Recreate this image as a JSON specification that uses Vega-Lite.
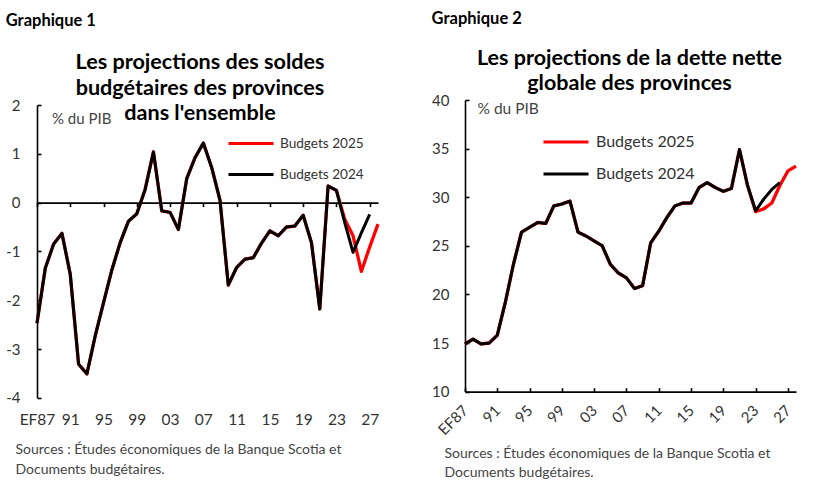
{
  "$schema": "https://vega.github.io/schema/vega-lite/v6.json",
  "padding": {"left": 5, "top": 11, "right": 5, "bottom": 5},
  "config": {
    "font": "Lato",
    "view": {"stroke": null},
    "axis": {
      "grid": false,
      "domainColor": "#000000",
      "domainWidth": 1.6,
      "tickColor": "#000000",
      "tickWidth": 1.6,
      "labelColor": "#333333",
      "labelFont": "Lato",
      "titleFont": "Lato",
      "titleFontWeight": "normal",
      "titleColor": "#444444"
    },
    "legend": {
      "labelFont": "Lato",
      "labelColor": "#333333"
    }
  },
  "datasets": {
    "solde": [
      {"annee": 1987, "serie": "Budgets 2025", "valeur": -2.47},
      {"annee": 1988, "serie": "Budgets 2025", "valeur": -1.34},
      {"annee": 1989, "serie": "Budgets 2025", "valeur": -0.85},
      {"annee": 1990, "serie": "Budgets 2025", "valeur": -0.63},
      {"annee": 1991, "serie": "Budgets 2025", "valeur": -1.47},
      {"annee": 1992, "serie": "Budgets 2025", "valeur": -3.31},
      {"annee": 1993, "serie": "Budgets 2025", "valeur": -3.51},
      {"annee": 1994, "serie": "Budgets 2025", "valeur": -2.73},
      {"annee": 1995, "serie": "Budgets 2025", "valeur": -2.05},
      {"annee": 1996, "serie": "Budgets 2025", "valeur": -1.38},
      {"annee": 1997, "serie": "Budgets 2025", "valeur": -0.82},
      {"annee": 1998, "serie": "Budgets 2025", "valeur": -0.38},
      {"annee": 1999, "serie": "Budgets 2025", "valeur": -0.23},
      {"annee": 2000, "serie": "Budgets 2025", "valeur": 0.27},
      {"annee": 2001, "serie": "Budgets 2025", "valeur": 1.04},
      {"annee": 2002, "serie": "Budgets 2025", "valeur": -0.17},
      {"annee": 2003, "serie": "Budgets 2025", "valeur": -0.2},
      {"annee": 2004, "serie": "Budgets 2025", "valeur": -0.55},
      {"annee": 2005, "serie": "Budgets 2025", "valeur": 0.49},
      {"annee": 2006, "serie": "Budgets 2025", "valeur": 0.92},
      {"annee": 2007, "serie": "Budgets 2025", "valeur": 1.22},
      {"annee": 2008, "serie": "Budgets 2025", "valeur": 0.72},
      {"annee": 2009, "serie": "Budgets 2025", "valeur": 0.05},
      {"annee": 2010, "serie": "Budgets 2025", "valeur": -1.69},
      {"annee": 2011, "serie": "Budgets 2025", "valeur": -1.33},
      {"annee": 2012, "serie": "Budgets 2025", "valeur": -1.16},
      {"annee": 2013, "serie": "Budgets 2025", "valeur": -1.13},
      {"annee": 2014, "serie": "Budgets 2025", "valeur": -0.83},
      {"annee": 2015, "serie": "Budgets 2025", "valeur": -0.58},
      {"annee": 2016, "serie": "Budgets 2025", "valeur": -0.68},
      {"annee": 2017, "serie": "Budgets 2025", "valeur": -0.5},
      {"annee": 2018, "serie": "Budgets 2025", "valeur": -0.48},
      {"annee": 2019, "serie": "Budgets 2025", "valeur": -0.26},
      {"annee": 2020, "serie": "Budgets 2025", "valeur": -0.82},
      {"annee": 2021, "serie": "Budgets 2025", "valeur": -2.18},
      {"annee": 2022, "serie": "Budgets 2025", "valeur": 0.34},
      {"annee": 2023, "serie": "Budgets 2025", "valeur": 0.25},
      {"annee": 2024, "serie": "Budgets 2025", "valeur": -0.34},
      {"annee": 2025, "serie": "Budgets 2025", "valeur": -0.68},
      {"annee": 2026, "serie": "Budgets 2025", "valeur": -1.41},
      {"annee": 2027, "serie": "Budgets 2025", "valeur": -0.91},
      {"annee": 2028, "serie": "Budgets 2025", "valeur": -0.44},
      {"annee": 1987, "serie": "Budgets 2024", "valeur": -2.47},
      {"annee": 1988, "serie": "Budgets 2024", "valeur": -1.34},
      {"annee": 1989, "serie": "Budgets 2024", "valeur": -0.85},
      {"annee": 1990, "serie": "Budgets 2024", "valeur": -0.63},
      {"annee": 1991, "serie": "Budgets 2024", "valeur": -1.47},
      {"annee": 1992, "serie": "Budgets 2024", "valeur": -3.31},
      {"annee": 1993, "serie": "Budgets 2024", "valeur": -3.51},
      {"annee": 1994, "serie": "Budgets 2024", "valeur": -2.73},
      {"annee": 1995, "serie": "Budgets 2024", "valeur": -2.05},
      {"annee": 1996, "serie": "Budgets 2024", "valeur": -1.38},
      {"annee": 1997, "serie": "Budgets 2024", "valeur": -0.82},
      {"annee": 1998, "serie": "Budgets 2024", "valeur": -0.38},
      {"annee": 1999, "serie": "Budgets 2024", "valeur": -0.23},
      {"annee": 2000, "serie": "Budgets 2024", "valeur": 0.27},
      {"annee": 2001, "serie": "Budgets 2024", "valeur": 1.04},
      {"annee": 2002, "serie": "Budgets 2024", "valeur": -0.17},
      {"annee": 2003, "serie": "Budgets 2024", "valeur": -0.2},
      {"annee": 2004, "serie": "Budgets 2024", "valeur": -0.55},
      {"annee": 2005, "serie": "Budgets 2024", "valeur": 0.49},
      {"annee": 2006, "serie": "Budgets 2024", "valeur": 0.92},
      {"annee": 2007, "serie": "Budgets 2024", "valeur": 1.22},
      {"annee": 2008, "serie": "Budgets 2024", "valeur": 0.72},
      {"annee": 2009, "serie": "Budgets 2024", "valeur": 0.05},
      {"annee": 2010, "serie": "Budgets 2024", "valeur": -1.69},
      {"annee": 2011, "serie": "Budgets 2024", "valeur": -1.33},
      {"annee": 2012, "serie": "Budgets 2024", "valeur": -1.16},
      {"annee": 2013, "serie": "Budgets 2024", "valeur": -1.13},
      {"annee": 2014, "serie": "Budgets 2024", "valeur": -0.83},
      {"annee": 2015, "serie": "Budgets 2024", "valeur": -0.58},
      {"annee": 2016, "serie": "Budgets 2024", "valeur": -0.68},
      {"annee": 2017, "serie": "Budgets 2024", "valeur": -0.5},
      {"annee": 2018, "serie": "Budgets 2024", "valeur": -0.48},
      {"annee": 2019, "serie": "Budgets 2024", "valeur": -0.26},
      {"annee": 2020, "serie": "Budgets 2024", "valeur": -0.82},
      {"annee": 2021, "serie": "Budgets 2024", "valeur": -2.18},
      {"annee": 2022, "serie": "Budgets 2024", "valeur": 0.34},
      {"annee": 2023, "serie": "Budgets 2024", "valeur": 0.25},
      {"annee": 2024, "serie": "Budgets 2024", "valeur": -0.41},
      {"annee": 2025, "serie": "Budgets 2024", "valeur": -1.02},
      {"annee": 2026, "serie": "Budgets 2024", "valeur": -0.62},
      {"annee": 2027, "serie": "Budgets 2024", "valeur": -0.24}
    ],
    "dette": [
      {"annee": 1987, "serie": "Budgets 2025", "valeur": 14.9},
      {"annee": 1988, "serie": "Budgets 2025", "valeur": 15.4},
      {"annee": 1989, "serie": "Budgets 2025", "valeur": 14.9},
      {"annee": 1990, "serie": "Budgets 2025", "valeur": 15.0},
      {"annee": 1991, "serie": "Budgets 2025", "valeur": 15.8},
      {"annee": 1992, "serie": "Budgets 2025", "valeur": 19.2},
      {"annee": 1993, "serie": "Budgets 2025", "valeur": 23.1},
      {"annee": 1994, "serie": "Budgets 2025", "valeur": 26.4},
      {"annee": 1995, "serie": "Budgets 2025", "valeur": 26.9},
      {"annee": 1996, "serie": "Budgets 2025", "valeur": 27.4},
      {"annee": 1997, "serie": "Budgets 2025", "valeur": 27.3},
      {"annee": 1998, "serie": "Budgets 2025", "valeur": 29.1},
      {"annee": 1999, "serie": "Budgets 2025", "valeur": 29.3},
      {"annee": 2000, "serie": "Budgets 2025", "valeur": 29.6},
      {"annee": 2001, "serie": "Budgets 2025", "valeur": 26.4},
      {"annee": 2002, "serie": "Budgets 2025", "valeur": 26.0},
      {"annee": 2003, "serie": "Budgets 2025", "valeur": 25.5},
      {"annee": 2004, "serie": "Budgets 2025", "valeur": 25.0},
      {"annee": 2005, "serie": "Budgets 2025", "valeur": 23.1},
      {"annee": 2006, "serie": "Budgets 2025", "valeur": 22.2},
      {"annee": 2007, "serie": "Budgets 2025", "valeur": 21.7},
      {"annee": 2008, "serie": "Budgets 2025", "valeur": 20.6},
      {"annee": 2009, "serie": "Budgets 2025", "valeur": 20.9},
      {"annee": 2010, "serie": "Budgets 2025", "valeur": 25.3},
      {"annee": 2011, "serie": "Budgets 2025", "valeur": 26.5},
      {"annee": 2012, "serie": "Budgets 2025", "valeur": 27.9},
      {"annee": 2013, "serie": "Budgets 2025", "valeur": 29.1},
      {"annee": 2014, "serie": "Budgets 2025", "valeur": 29.4},
      {"annee": 2015, "serie": "Budgets 2025", "valeur": 29.4},
      {"annee": 2016, "serie": "Budgets 2025", "valeur": 31.0},
      {"annee": 2017, "serie": "Budgets 2025", "valeur": 31.5},
      {"annee": 2018, "serie": "Budgets 2025", "valeur": 31.0},
      {"annee": 2019, "serie": "Budgets 2025", "valeur": 30.6},
      {"annee": 2020, "serie": "Budgets 2025", "valeur": 30.9},
      {"annee": 2021, "serie": "Budgets 2025", "valeur": 34.9},
      {"annee": 2022, "serie": "Budgets 2025", "valeur": 31.2},
      {"annee": 2023, "serie": "Budgets 2025", "valeur": 28.5},
      {"annee": 2024, "serie": "Budgets 2025", "valeur": 28.8},
      {"annee": 2025, "serie": "Budgets 2025", "valeur": 29.4},
      {"annee": 2026, "serie": "Budgets 2025", "valeur": 31.2},
      {"annee": 2027, "serie": "Budgets 2025", "valeur": 32.7},
      {"annee": 2028, "serie": "Budgets 2025", "valeur": 33.2},
      {"annee": 1987, "serie": "Budgets 2024", "valeur": 14.9},
      {"annee": 1988, "serie": "Budgets 2024", "valeur": 15.4},
      {"annee": 1989, "serie": "Budgets 2024", "valeur": 14.9},
      {"annee": 1990, "serie": "Budgets 2024", "valeur": 15.0},
      {"annee": 1991, "serie": "Budgets 2024", "valeur": 15.8},
      {"annee": 1992, "serie": "Budgets 2024", "valeur": 19.2},
      {"annee": 1993, "serie": "Budgets 2024", "valeur": 23.1},
      {"annee": 1994, "serie": "Budgets 2024", "valeur": 26.4},
      {"annee": 1995, "serie": "Budgets 2024", "valeur": 26.9},
      {"annee": 1996, "serie": "Budgets 2024", "valeur": 27.4},
      {"annee": 1997, "serie": "Budgets 2024", "valeur": 27.3},
      {"annee": 1998, "serie": "Budgets 2024", "valeur": 29.1},
      {"annee": 1999, "serie": "Budgets 2024", "valeur": 29.3},
      {"annee": 2000, "serie": "Budgets 2024", "valeur": 29.6},
      {"annee": 2001, "serie": "Budgets 2024", "valeur": 26.4},
      {"annee": 2002, "serie": "Budgets 2024", "valeur": 26.0},
      {"annee": 2003, "serie": "Budgets 2024", "valeur": 25.5},
      {"annee": 2004, "serie": "Budgets 2024", "valeur": 25.0},
      {"annee": 2005, "serie": "Budgets 2024", "valeur": 23.1},
      {"annee": 2006, "serie": "Budgets 2024", "valeur": 22.2},
      {"annee": 2007, "serie": "Budgets 2024", "valeur": 21.7},
      {"annee": 2008, "serie": "Budgets 2024", "valeur": 20.6},
      {"annee": 2009, "serie": "Budgets 2024", "valeur": 20.9},
      {"annee": 2010, "serie": "Budgets 2024", "valeur": 25.3},
      {"annee": 2011, "serie": "Budgets 2024", "valeur": 26.5},
      {"annee": 2012, "serie": "Budgets 2024", "valeur": 27.9},
      {"annee": 2013, "serie": "Budgets 2024", "valeur": 29.1},
      {"annee": 2014, "serie": "Budgets 2024", "valeur": 29.4},
      {"annee": 2015, "serie": "Budgets 2024", "valeur": 29.4},
      {"annee": 2016, "serie": "Budgets 2024", "valeur": 31.0},
      {"annee": 2017, "serie": "Budgets 2024", "valeur": 31.5},
      {"annee": 2018, "serie": "Budgets 2024", "valeur": 31.0},
      {"annee": 2019, "serie": "Budgets 2024", "valeur": 30.6},
      {"annee": 2020, "serie": "Budgets 2024", "valeur": 30.9},
      {"annee": 2021, "serie": "Budgets 2024", "valeur": 34.9},
      {"annee": 2022, "serie": "Budgets 2024", "valeur": 31.2},
      {"annee": 2023, "serie": "Budgets 2024", "valeur": 28.6},
      {"annee": 2024, "serie": "Budgets 2024", "valeur": 29.8},
      {"annee": 2025, "serie": "Budgets 2024", "valeur": 30.8},
      {"annee": 2026, "serie": "Budgets 2024", "valeur": 31.5}
    ]
  },
  "columns": 2,
  "align": "none",
  "spacing": 51,
  "concat": [
    {
      "title": {"text": "Graphique 1", "anchor": "start", "frame": "bounds", "fontSize": 16.5, "fontWeight": "bold", "color": "#000000", "offset": 23},
      "vconcat": [
        {
          "title": {
            "text": ["Les projections des soldes", "budgétaires des provinces", "dans l'ensemble"],
            "anchor": "middle", "frame": "group", "dx": -7.5,
            "fontSize": 21.6, "fontWeight": "bold", "color": "#000000",
            "lineHeight": 25.5, "offset": -26.8
          },
          "width": 341,
          "height": 297.8,
          "data": {"name": "solde"},
          "encoding": {
            "x": {
              "field": "annee", "type": "quantitative",
              "scale": {"domain": [1987, 2028], "nice": false, "zero": false},
              "axis": {
                "values": [1987, 1991, 1995, 1999, 2003, 2007, 2011, 2015, 2019, 2023, 2027],
                "labelExpr": "datum.value == 1987 ? 'EF87' : substring(toString(datum.value), 2, 4)",
                "offset": -195.2,
                "tickSize": 4,
                "labelPadding": 206,
                "labelFontSize": 15.5,
                "labelFlush": false,
                "labelOverlap": false,
                "title": ["Sources : Études économiques de la Banque Scotia et", "Documents budgétaires."],
                "titleFontSize": 14,
                "titleLineHeight": 20,
                "titleAnchor": "start",
                "titleAlign": "left",
                "titleBaseline": "top",
                "titleX": -22,
                "titleY": 239.5
              }
            },
            "y": {
              "field": "valeur", "type": "quantitative",
              "scale": {"domain": [-4, 2], "nice": false, "range": [297.8, 5]},
              "axis": {
                "values": [-4, -3, -2, -1, 0, 1, 2],
                "labelExpr": "toString(datum.value)",
                "tickSize": -4,
                "labelPadding": 21,
                "labelFontSize": 15,
                "title": "% du PIB",
                "titleAngle": 0,
                "titleAlign": "left",
                "titleBaseline": "middle",
                "titleX": 14.5,
                "titleY": 18,
                "titleFontSize": 15
              }
            },
            "color": {
              "field": "serie", "type": "nominal",
              "scale": {"domain": ["Budgets 2025", "Budgets 2024"], "range": ["#ff0000", "#000000"]},
              "legend": {
                "orient": "none", "legendX": 190, "legendY": 19.5,
                "title": null,
                "symbolType": "stroke", "symbolSize": 2025, "symbolStrokeWidth": 3,
                "labelFontSize": 13.6, "labelOffset": 5, "rowPadding": -8
              }
            }
          },
          "layer": [
            {
              "transform": [{"filter": "datum.serie == 'Budgets 2025'"}],
              "mark": {"type": "line", "strokeWidth": 3.3, "strokeJoin": "round"}
            },
            {
              "transform": [{"filter": "datum.serie == 'Budgets 2024'"}],
              "mark": {"type": "line", "strokeWidth": 3, "strokeJoin": "round"}
            }
          ]
        }
      ]
    },
    {
      "title": {"text": "Graphique 2", "anchor": "start", "frame": "bounds", "fontSize": 16.5, "fontWeight": "bold", "color": "#000000", "offset": 20},
      "vconcat": [
        {
          "title": {
            "text": ["Les projections de la dette nette", "globale des provinces"],
            "anchor": "middle", "frame": "group", "dx": -1,
            "fontSize": 21.5, "fontWeight": "bold", "color": "#000000",
            "lineHeight": 25, "offset": -1
          },
          "width": 331,
          "height": 291.6,
          "data": {"name": "dette"},
          "encoding": {
            "x": {
              "field": "annee", "type": "quantitative",
              "scale": {"domain": [1987, 2028], "nice": false, "zero": false},
              "axis": {
                "values": [1987, 1991, 1995, 1999, 2003, 2007, 2011, 2015, 2019, 2023, 2027],
                "labelExpr": "datum.value == 1987 ? 'EF87' : substring(toString(datum.value), 2, 4)",
                "tickSize": -4,
                "labelAngle": -45,
                "labelAlign": "right",
                "labelBaseline": "middle",
                "labelPadding": 20,
                "labelFontSize": 15,
                "labelFlush": false,
                "labelOverlap": false,
                "title": ["Sources : Études économiques de la Banque Scotia et", "Documents budgétaires."],
                "titleFontSize": 14,
                "titleLineHeight": 19,
                "titleAnchor": "start",
                "titleAlign": "left",
                "titleX": -21,
                "titlePadding": 8.7
              }
            },
            "y": {
              "field": "valeur", "type": "quantitative",
              "scale": {"domain": [10, 40], "nice": false, "zero": false},
              "axis": {
                "values": [10, 15, 20, 25, 30, 35, 40],
                "tickSize": -4,
                "labelPadding": 20,
                "labelFontSize": 15,
                "title": "% du PIB",
                "titleAngle": 0,
                "titleAlign": "left",
                "titleBaseline": "middle",
                "titleX": 12,
                "titleY": 8.3,
                "titleFontSize": 15.5
              }
            },
            "color": {
              "field": "serie", "type": "nominal",
              "scale": {"domain": ["Budgets 2025", "Budgets 2024"], "range": ["#ff0000", "#000000"]},
              "legend": {
                "orient": "none", "legendX": 77, "legendY": 18,
                "title": null,
                "symbolType": "stroke", "symbolSize": 2025, "symbolStrokeWidth": 3,
                "labelFontSize": 16, "labelOffset": 6, "rowPadding": -7
              }
            }
          },
          "layer": [
            {
              "transform": [{"filter": "datum.serie == 'Budgets 2025'"}],
              "mark": {"type": "line", "strokeWidth": 3.3, "strokeJoin": "round"}
            },
            {
              "transform": [{"filter": "datum.serie == 'Budgets 2024'"}],
              "mark": {"type": "line", "strokeWidth": 3, "strokeJoin": "round"}
            }
          ]
        }
      ]
    }
  ],
  "resolve": {"scale": {"color": "independent"}}
}
